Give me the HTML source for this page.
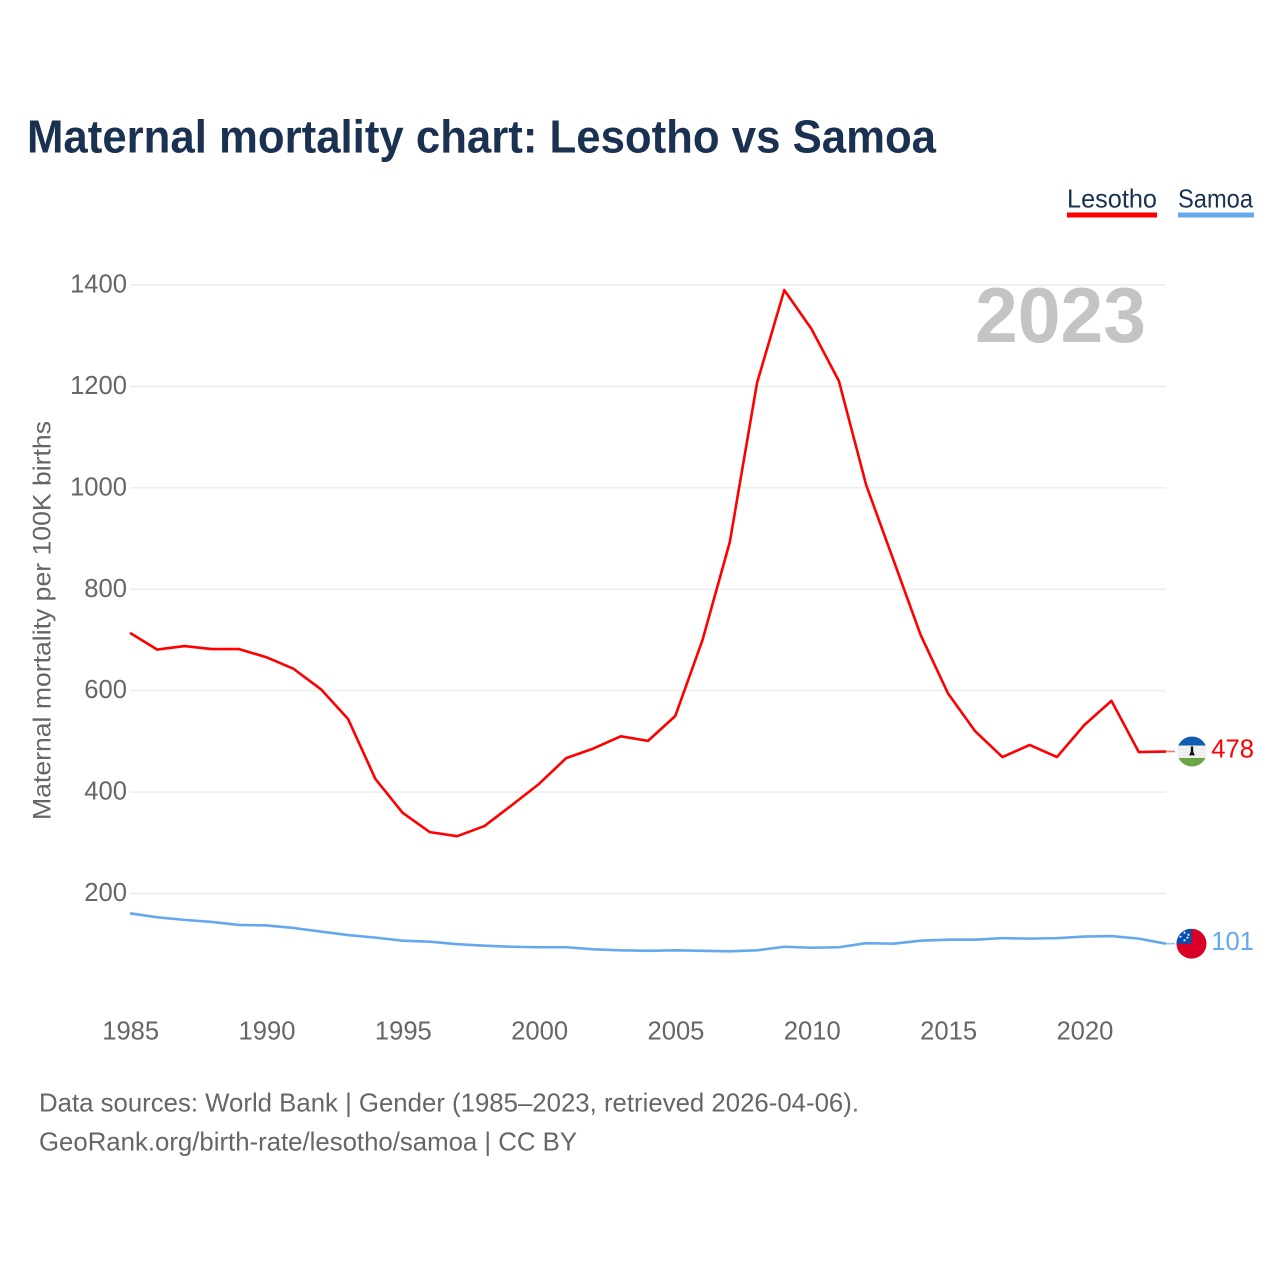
<!DOCTYPE html>
<html lang="en">
<head>
<meta charset="utf-8">
<title>Maternal mortality chart: Lesotho vs Samoa</title>
<style>
html,body{margin:0;padding:0;background:#fff;width:1280px;height:1280px;overflow:hidden}
svg{display:block}
text{font-family:"Liberation Sans",sans-serif}
</style>
</head>
<body>
<svg id="chart" xmlns="http://www.w3.org/2000/svg" width="1280" height="1280" viewBox="0 0 1280 1280">
  <defs>
    <clipPath id="flag-clip-lesotho"><circle cx="0" cy="0" r="15"/></clipPath>
    <clipPath id="flag-clip-samoa"><circle cx="0" cy="0" r="15"/></clipPath>
  </defs>
  <rect x="0" y="0" width="1280" height="1280" fill="#ffffff"/>
  <text x="27" y="152.5" font-size="46" font-weight="700" fill="#1a3151" textLength="909" lengthAdjust="spacingAndGlyphs">Maternal mortality chart: Lesotho vs Samoa</text>

  <g>
    <g>
      <text x="1067" y="207.5" font-size="26" fill="#1a3151" textLength="90" lengthAdjust="spacingAndGlyphs">Lesotho</text>
      <rect x="1067" y="212.5" width="90" height="5" fill="#ff0000"/>
    </g>
    <g>
      <text x="1178" y="207.5" font-size="26" fill="#1a3151" textLength="75" lengthAdjust="spacingAndGlyphs">Samoa</text>
      <rect x="1178" y="212.5" width="76" height="5" fill="#64a8ee"/>
    </g>
  </g>

  <g id="grid"></g>
  <g id="y-ticks"></g>
  <g id="x-ticks"></g>

  <text transform="translate(50.5 820) rotate(-90)" x="0" y="0" font-size="25" fill="#666666" textLength="399" lengthAdjust="spacingAndGlyphs">Maternal mortality per 100K births</text>

  <text x="975" y="342" font-size="78" font-weight="700" fill="#c4c4c4" textLength="171" lengthAdjust="spacingAndGlyphs">2023</text>

  <g id="series"></g>
  <g id="ends"></g>

  <text x="39" y="1111.5" font-size="26" fill="#666666" textLength="820" lengthAdjust="spacingAndGlyphs">Data sources: World Bank | Gender (1985–2023, retrieved 2026-04-06).</text>
  <text x="39" y="1150.5" font-size="26" fill="#666666" textLength="538" lengthAdjust="spacingAndGlyphs">GeoRank.org/birth-rate/lesotho/samoa | CC BY</text>
</svg>
<script>
const years = [1985,1986,1987,1988,1989,1990,1991,1992,1993,1994,1995,1996,1997,1998,1999,2000,2001,2002,2003,2004,2005,2006,2007,2008,2009,2010,2011,2012,2013,2014,2015,2016,2017,2018,2019,2020,2021,2022,2023];
const lesothoValues = [714,681,688,682,682,666,643,603,544,426,359,321,313,333,374,416,467,486,510,501,550,700,893,1207,1390,1313,1211,1006,858,710,595,520,469,493,469,532,580,479,480];
const samoaValues = [161,153,148,144,138,137,132,125,118,113,107,105,100,97,95,94,94,90,88,87,88,87,86,88,95,93,94,102,101,107,109,109,112,111,112,115,116,111,101];
const yTickValues = [200,400,600,800,1000,1200,1400];
const xTickYears = [1985,1990,1995,2000,2005,2010,2015,2020];
const lesothoEndLabel = '478';
const samoaEndLabel = '101';

const NS = 'http://www.w3.org/2000/svg';
const xScale = function (year) { return 130 + (year - 1985) * (1166 - 130) / (2023 - 1985); };
const yScale = function (value) { return 893.5 - (value - 200) * (893.5 - 285) / 1200; };
const make = function (tag, parent) {
  const el = document.createElementNS(NS, tag);
  parent.appendChild(el);
  return el;
};
const linePath = function (values) {
  return values.map(function (v, i) {
    return (i ? 'L' : 'M') + xScale(years[i]).toFixed(2) + ' ' + yScale(v).toFixed(2);
  }).join(' ');
};

const gridGroup = document.getElementById('grid');
const yGroup = document.getElementById('y-ticks');
yTickValues.forEach(function (v) {
  const line = make('line', gridGroup);
  
  
  line.setAttribute('x1', 130);
  line.setAttribute('x2', 1166);
  line.setAttribute('y1', yScale(v));
  line.setAttribute('y2', yScale(v));
  line.setAttribute('stroke', '#e8e8e8');
  line.setAttribute('stroke-width', '1.2');
  const label = make('text', yGroup);
  
  
  label.setAttribute('x', 127);
  label.setAttribute('y', yScale(v) + 7.5);
  label.setAttribute('text-anchor', 'end');
  label.setAttribute('font-size', '25.6');
  label.setAttribute('fill', '#666666');
  label.textContent = String(v);
});

const xGroup = document.getElementById('x-ticks');
xTickYears.forEach(function (year) {
  const label = make('text', xGroup);
  
  
  label.setAttribute('x', xScale(year) + 0.7);
  label.setAttribute('y', 1039.5);
  label.setAttribute('text-anchor', 'middle');
  label.setAttribute('font-size', '25.6');
  label.setAttribute('fill', '#666666');
  label.textContent = String(year);
});

const seriesGroup = document.getElementById('series');
const samoaLine = make('path', seriesGroup);


samoaLine.setAttribute('d', linePath(samoaValues));
samoaLine.setAttribute('fill', 'none');
samoaLine.setAttribute('stroke', '#64a8ee');
samoaLine.setAttribute('stroke-width', '2.6');
samoaLine.setAttribute('stroke-linejoin', 'round');

const lesothoLine = make('path', seriesGroup);


lesothoLine.setAttribute('d', linePath(lesothoValues));
lesothoLine.setAttribute('fill', 'none');
lesothoLine.setAttribute('stroke', '#ff0000');
lesothoLine.setAttribute('stroke-width', '2.6');
lesothoLine.setAttribute('stroke-linejoin', 'round');

const endsGroup = document.getElementById('ends');
const lesothoEnd = yScale(lesothoValues[lesothoValues.length - 1]);
const samoaEnd = yScale(samoaValues[samoaValues.length - 1]);

const lesothoLead = make('line', endsGroup);


lesothoLead.setAttribute('x1', 1166);
lesothoLead.setAttribute('x2', 1175);
lesothoLead.setAttribute('y1', lesothoEnd);
lesothoLead.setAttribute('y2', lesothoEnd);
lesothoLead.setAttribute('stroke', '#ff0000');
lesothoLead.setAttribute('stroke-opacity', '0.55');
lesothoLead.setAttribute('stroke-width', '1.6');

const samoaLead = make('line', endsGroup);


samoaLead.setAttribute('x1', 1166);
samoaLead.setAttribute('x2', 1175);
samoaLead.setAttribute('y1', samoaEnd);
samoaLead.setAttribute('y2', samoaEnd);
samoaLead.setAttribute('stroke', '#64a8ee');
samoaLead.setAttribute('stroke-opacity', '0.7');
samoaLead.setAttribute('stroke-width', '1.6');

const lesothoFlag = make('g', endsGroup);


lesothoFlag.setAttribute('transform', 'translate(1192 ' + lesothoEnd + ')');
lesothoFlag.innerHTML =
  '<g clip-path="url(#flag-clip-lesotho)">' +
  '<rect x="-15" y="-15" width="30" height="9" fill="#0f5cb0"/>' +
  '<rect x="-15" y="-6" width="30" height="12.5" fill="#f0f0f0"/>' +
  '<rect x="-15" y="6.5" width="30" height="8.5" fill="#6da544"/>' +
  '<path d="M-1.2 -5 L1.2 -5 L1.2 0 L2.8 3.8 L-2.8 3.8 L-1.2 0 Z" fill="#111111"/>' +
  '</g>';

const samoaFlag = make('g', endsGroup);


samoaFlag.setAttribute('transform', 'translate(1191.5 ' + samoaEnd + ')');
samoaFlag.innerHTML =
  '<g clip-path="url(#flag-clip-samoa)">' +
  '<rect x="-15" y="-15" width="30" height="30" fill="#d80027"/>' +
  '<rect x="-15" y="-15" width="15" height="15" fill="#0052b4"/>' +
  '<circle cx="-7" cy="-11" r="1.1" fill="#f0f0f0"/>' +
  '<circle cx="-3" cy="-9" r="1.1" fill="#f0f0f0"/>' +
  '<circle cx="-11" cy="-7" r="1.1" fill="#f0f0f0"/>' +
  '<circle cx="-4" cy="-6" r="1.1" fill="#f0f0f0"/>' +
  '<circle cx="-7" cy="-3.5" r="1.1" fill="#f0f0f0"/>' +
  '</g>';

const lesothoValueLabel = make('text', endsGroup);


lesothoValueLabel.setAttribute('x', 1254);
lesothoValueLabel.setAttribute('y', lesothoEnd + 6);
lesothoValueLabel.setAttribute('text-anchor', 'end');
lesothoValueLabel.setAttribute('font-size', '25.6');
lesothoValueLabel.setAttribute('fill', '#ff0000');
lesothoValueLabel.textContent = lesothoEndLabel;

const samoaValueLabel = make('text', endsGroup);


samoaValueLabel.setAttribute('x', 1254);
samoaValueLabel.setAttribute('y', samoaEnd + 6.5);
samoaValueLabel.setAttribute('text-anchor', 'end');
samoaValueLabel.setAttribute('font-size', '25.6');
samoaValueLabel.setAttribute('fill', '#64a8ee');
samoaValueLabel.textContent = samoaEndLabel;
</script>
</body>
</html>
